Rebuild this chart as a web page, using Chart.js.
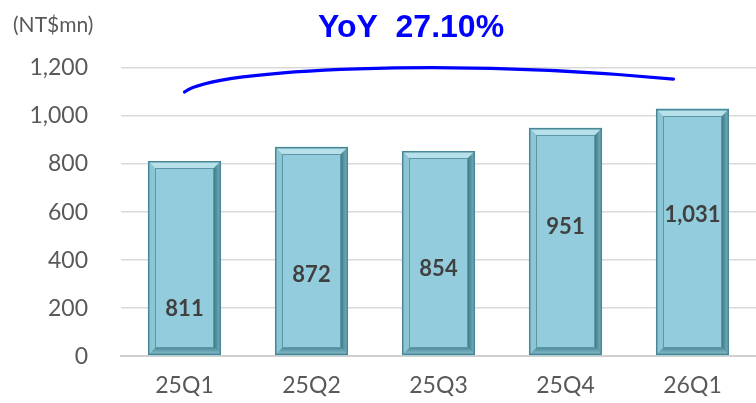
<!DOCTYPE html>
<html>
<head>
<meta charset="utf-8">
<script src="https://cdn.jsdelivr.net/npm/chart.js@4"></script>
<style>
  html, body { margin: 0; padding: 0; background: #fff; }
  #wrap { width: 756px; height: 403px; }
</style>
</head>
<body>
<div id="wrap"><canvas id="myChart"></canvas></div>
<script>
// chart values
var quarters = ['25Q1', '25Q2', '25Q3', '25Q4', '26Q1'];
var revenue = [811, 872, 854, 951, 1031];
// where each value label sits inside its bar (data units)
var labelAt = [195, 340, 362, 538, 588];
var yTicks = [0, 200, 400, 600, 800, 1000, 1200];
var yoyText = 'YoY  27.10%';
var unitText = '(NT$mn)';
// growth arc, in data units: [category index, value]
var arcPts = [[0, 1100], [0.25, 1200], [2.1, 1240], [3.85, 1154]];

function poly(ctx, pts, fill) {
  ctx.beginPath();
  ctx.moveTo(pts[0][0], pts[0][1]);
  for (var i = 1; i < pts.length; i++) ctx.lineTo(pts[i][0], pts[i][1]);
  ctx.closePath();
  ctx.fillStyle = fill;
  ctx.fill();
}

var bevelBars = {
  id: 'bevelBars',
  afterDatasetsDraw: function(chart) {
    var ctx = chart.ctx;
    var meta = chart.getDatasetMeta(0);
    var ys = chart.scales.y;
    ctx.save();
    meta.data.forEach(function(bar, i) {
      var l = Math.round(bar.x - bar.width / 2), r = Math.round(bar.x + bar.width / 2);
      var t = Math.round(bar.y), b = Math.round(bar.base);
      var e = 7;
      ctx.fillStyle = '#93cddd';
      ctx.fillRect(l, t, r - l, b - t);
      poly(ctx, [[l, t], [r, t], [r - e, t + e], [l + e, t + e]], '#b6e0ea');
      poly(ctx, [[l, t], [l + e, t + e], [l + e, b - e], [l, b]], '#8cc6d5');
      var gr = ctx.createLinearGradient(r - e, 0, r, 0);
      gr.addColorStop(0, '#3f7d8c');
      gr.addColorStop(1, '#7fb6c4');
      poly(ctx, [[r, t], [r, b], [r - e, b - e], [r - e, t + e]], gr);
      var gb = ctx.createLinearGradient(0, b - e, 0, b);
      gb.addColorStop(0, '#4f8d9c');
      gb.addColorStop(1, '#8fc3d0');
      poly(ctx, [[l, b], [r, b], [r - e, b - e], [l + e, b - e]], gb);
      ctx.strokeStyle = '#5b97a6';
      ctx.lineWidth = 1;
      ctx.strokeRect(l + e + 0.5, t + e + 0.5, r - l - 2 * e - 1, b - t - 2 * e - 1);
      ctx.strokeStyle = '#4a8796';
      ctx.lineWidth = 1.5;
      ctx.strokeRect(l + 0.75, t + 0.75, r - l - 1.5, b - t - 1.5);
      // value label
      ctx.fillStyle = '#404040';
      ctx.font = 'bold 22px Lato, "Liberation Sans", sans-serif';
      ctx.textAlign = 'center';
      ctx.textBaseline = 'middle';
      ctx.fillText(revenue[i].toLocaleString('en-US'), bar.x, ys.getPixelForValue(labelAt[i]));
    });
    ctx.restore();
  }
};

var annotations = {
  id: 'annotations',
  afterDraw: function(chart) {
    var ctx = chart.ctx, xs = chart.scales.x, ys = chart.scales.y;
    var step = xs.getPixelForValue(1) - xs.getPixelForValue(0);
    var p = arcPts.map(function(a) {
      return [xs.getPixelForValue(0) + a[0] * step, ys.getPixelForValue(a[1])];
    });
    ctx.save();
    ctx.strokeStyle = '#0000ff';
    ctx.lineWidth = 3.2;
    ctx.lineCap = 'round';
    ctx.beginPath();
    ctx.moveTo(p[0][0], p[0][1]);
    ctx.bezierCurveTo(p[1][0], p[1][1], p[2][0], p[2][1], p[3][0], p[3][1]);
    ctx.stroke();

    ctx.fillStyle = '#0000ff';
    ctx.font = 'bold 32px "Liberation Sans", Arial, sans-serif';
    ctx.textAlign = 'center';
    ctx.textBaseline = 'alphabetic';
    ctx.fillText(yoyText, 411, 37);

    ctx.fillStyle = '#595959';
    ctx.font = '21px Lato, sans-serif';
    ctx.textAlign = 'left';
    ctx.fillText(unitText, 13, 32);
    ctx.restore();
  }
};

var ctx = document.getElementById('myChart');
var myChart = new Chart(ctx, {
  type: 'bar',
  data: {
    labels: quarters,
    datasets: [{
      data: revenue,
      backgroundColor: '#93cddd',
      borderWidth: 0,
      categoryPercentage: 1,
      barPercentage: 0.576
    }]
  },
  options: {
    responsive: true,
    maintainAspectRatio: false,
    animation: false,
    layout: { padding: { top: 68, right: 0, bottom: 0, left: 0 } },
    plugins: { legend: { display: false }, tooltip: { enabled: false } },
    scales: {
      x: {
        afterFit: function(s) { s.height = 40; },
        grid: { display: false },
        border: { color: '#d0d0d0', width: 2 },
        ticks: { color: '#595959', font: { family: 'Lato', size: 23 }, padding: 8 }
      },
      y: {
        min: 0,
        max: 1200,
        afterBuildTicks: function(s) { s.ticks = yTicks.map(function(v) { return { value: v }; }); },
        afterFit: function(s) { s.width = 121; },
        border: { display: false },
        grid: { color: '#d9d9d9', lineWidth: 1.5, drawTicks: false },
        ticks: {
          color: '#595959',
          font: { family: 'Lato', size: 23 },
          padding: 33,
          callback: function(v) { return v.toLocaleString('en-US'); }
        }
      }
    }
  },
  plugins: [bevelBars, annotations]
});
</script>
</body>
</html>
